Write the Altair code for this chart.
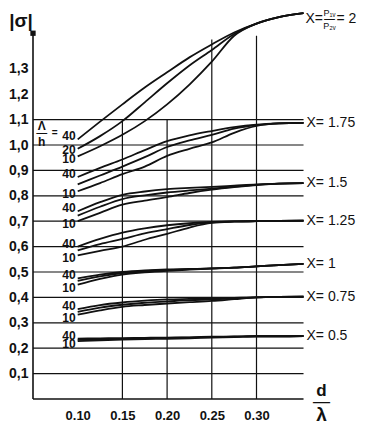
import altair as alt
import pandas as pd

# ---------------- data ----------------
D_LAMBDA = [0.10, 0.125, 0.15, 0.175, 0.20, 0.225, 0.25, 0.275, 0.30, 0.325, 0.3526]

X2_L40 = [1.022, 1.092, 1.160, 1.226, 1.286, 1.345, 1.396, 1.443, 1.478, 1.503, 1.519]
X2_L20 = [0.985, 1.035, 1.094, 1.168, 1.243, 1.313, 1.374, 1.437, 1.478, 1.503, 1.519]
X2_L10 = [0.955, 0.995, 1.040, 1.094, 1.160, 1.238, 1.328, 1.430, 1.478, 1.503, 1.519]

X175_L40 = [0.874, 0.910, 0.943, 0.980, 1.015, 1.038, 1.055, 1.070, 1.080, 1.085, 1.087]
X175_L20 = [0.845, 0.880, 0.915, 0.952, 0.992, 1.018, 1.040, 1.064, 1.078, 1.085, 1.087]
X175_L10 = [0.818, 0.850, 0.885, 0.915, 0.957, 0.985, 1.010, 1.048, 1.075, 1.085, 1.087]

X15_L40 = [0.739, 0.775, 0.804, 0.817, 0.826, 0.831, 0.835, 0.840, 0.845, 0.848, 0.850]
X15_L20 = [0.722, 0.757, 0.787, 0.802, 0.813, 0.821, 0.828, 0.836, 0.843, 0.848, 0.850]
X15_L10 = [0.700, 0.733, 0.765, 0.781, 0.795, 0.811, 0.824, 0.834, 0.842, 0.848, 0.850]

X125_L40 = [0.600, 0.630, 0.655, 0.672, 0.684, 0.692, 0.697, 0.699, 0.700, 0.701, 0.702]
X125_L20 = [0.585, 0.610, 0.630, 0.652, 0.669, 0.685, 0.695, 0.699, 0.700, 0.701, 0.702]
X125_L10 = [0.565, 0.583, 0.600, 0.627, 0.650, 0.675, 0.693, 0.698, 0.700, 0.701, 0.702]

X1_L40 = [0.475, 0.490, 0.500, 0.506, 0.510, 0.512, 0.514, 0.517, 0.522, 0.527, 0.532]
X1_L20 = [0.465, 0.483, 0.496, 0.503, 0.508, 0.511, 0.514, 0.517, 0.522, 0.527, 0.532]
X1_L10 = [0.450, 0.473, 0.490, 0.499, 0.505, 0.509, 0.513, 0.517, 0.522, 0.527, 0.532]

X075_L40 = [0.354, 0.370, 0.380, 0.387, 0.392, 0.394, 0.396, 0.398, 0.400, 0.402, 0.403]
X075_L20 = [0.343, 0.360, 0.371, 0.379, 0.384, 0.389, 0.392, 0.396, 0.400, 0.402, 0.403]
X075_L10 = [0.332, 0.349, 0.363, 0.370, 0.376, 0.381, 0.386, 0.393, 0.400, 0.402, 0.403]

X05_L40 = [0.238, 0.239, 0.240, 0.241, 0.242, 0.243, 0.245, 0.246, 0.247, 0.247, 0.248]
X05_L20 = [0.233, 0.235, 0.237, 0.239, 0.240, 0.242, 0.244, 0.245, 0.247, 0.247, 0.248]
X05_L10 = [0.228, 0.231, 0.234, 0.236, 0.237, 0.239, 0.242, 0.244, 0.247, 0.247, 0.248]

GROUP_NAMES = ["2", "1.75", "1.5", "1.25", "1", "0.75", "0.5"]
GROUP_SERIES = {
    "2": (X2_L40, X2_L20, X2_L10),
    "1.75": (X175_L40, X175_L20, X175_L10),
    "1.5": (X15_L40, X15_L20, X15_L10),
    "1.25": (X125_L40, X125_L20, X125_L10),
    "1": (X1_L40, X1_L20, X1_L10),
    "0.75": (X075_L40, X075_L20, X075_L10),
    "0.5": (X05_L40, X05_L20, X05_L10),
}
LAMBDA_H = [40, 20, 10]

Y_TICKS = [0.1, 0.2, 0.3, 0.4, 0.5, 0.6, 0.7, 0.8, 0.9, 1.0, 1.1, 1.2, 1.3]
X_TICKS = [0.10, 0.15, 0.20, 0.25, 0.30]
H_GRID = [0.1, 0.2, 0.3, 0.4, 0.5, 0.6, 0.7, 0.8, 0.9, 1.0, 1.1]
V_GRID = [0.15, 0.20, 0.25, 0.30]
V_GRID_TOP = [1.1, 1.1, 1.415, 1.43]
X_MIN = 0.05
Y_AXIS_TOP = 1.44
X_END = D_LAMBDA[-1]

# ---------------- tables ----------------
rows = []
for g in GROUP_NAMES:
    for lam, series in zip(LAMBDA_H, GROUP_SERIES[g]):
        for xv, yv in zip(D_LAMBDA, series):
            rows.append({"x": xv, "y": yv, "curve": f"{g}_{lam}"})
curves = pd.DataFrame(rows)

start_rows = []
for g in GROUP_NAMES:
    for lam, series in zip(LAMBDA_H, GROUP_SERIES[g]):
        if lam == 20 and g != "2":
            continue
        start_rows.append({"x": D_LAMBDA[0], "y": series[0], "lab": str(lam), "lam": lam})
starts = pd.DataFrame(start_rows)

end_labels = pd.DataFrame(
    [{"x": X_END, "y": GROUP_SERIES[g][0][-1], "lab": f"X= {g}"} for g in GROUP_NAMES[1:]]
)

hgrid = pd.DataFrame({"y": H_GRID, "x": X_MIN, "x2": X_END})
vgrid = pd.DataFrame({"x": V_GRID, "y": 0.0, "y2": V_GRID_TOP})
yaxis_line = pd.DataFrame({"x": [X_MIN], "y": [0.0], "y2": [Y_AXIS_TOP]})
xaxis_line = pd.DataFrame({"x": [X_MIN], "x2": [X_END], "y": [0.0]})
top_anchor = pd.DataFrame({"x": [X_MIN], "y": [Y_AXIS_TOP]})
x2_anchor = pd.DataFrame({"x": [X_END], "y": [X2_L40[-1]]})
lam_anchor = pd.DataFrame({"x": [D_LAMBDA[0]], "y": [X2_L40[0]]})
dl_anchor = pd.DataFrame({"x": [X_END], "y": [0.0]})

# ---------------- scales / style ----------------
W, H = 329, 390
PX_X = 894.0
PX_Y = 254.0
xs = alt.Scale(domain=[X_MIN, X_MIN + W / PX_X], nice=False, zero=False)
ys = alt.Scale(domain=[0, H / PX_Y], nice=False, zero=False)
FONT = "Liberation Sans"
INK = "#111111"

X_AXIS = alt.Axis(values=X_TICKS, format=".2f", domain=False, grid=False,
                  ticks=False, labelPadding=10, labelFont=FONT, labelFontSize=13,
                  labelFontWeight="bold", labelColor=INK, title=None)
Y_AXIS = alt.Axis(values=Y_TICKS, domain=False, grid=False, ticks=False,
                  labelExpr="replace(format(datum.value, '.1f'), '.', ',')",
                  labelPadding=5, labelFont=FONT, labelFontSize=14,
                  labelFontWeight="bold", labelColor=INK, title=None)


def X():
    return alt.X("x:Q", scale=xs, axis=X_AXIS)


def Y():
    return alt.Y("y:Q", scale=ys, axis=Y_AXIS)


lines = alt.Chart(curves).mark_line(
    color=INK, strokeWidth=1.8, interpolate="monotone"
).encode(x=X(), y=Y(), detail="curve:N")

grid_h = alt.Chart(hgrid).mark_rule(color=INK, strokeWidth=1.2).encode(
    x=X(), x2="x2:Q", y=Y())
grid_v = alt.Chart(vgrid).mark_rule(color=INK, strokeWidth=1.2).encode(
    x=X(), y=Y(), y2="y2:Q")
ax_y = alt.Chart(yaxis_line).mark_rule(color=INK, strokeWidth=1.6).encode(
    x=X(), y=Y(), y2="y2:Q")
ax_x = alt.Chart(xaxis_line).mark_rule(color=INK, strokeWidth=1.6).encode(
    x=X(), x2="x2:Q", y=Y())


def txt(df, text=None, **kw):
    params = dict(font=FONT, color=INK, fontWeight="bold", baseline="middle")
    params.update(kw)
    if text is not None:
        params["text"] = text
        return alt.Chart(df).mark_text(**params).encode(x=X(), y=Y())
    return alt.Chart(df).mark_text(**params).encode(x=X(), y=Y(), text="lab:N")


lab40 = txt(starts[starts.lam == 40], align="right", dx=-2, dy=-3, fontSize=12)
lab20 = txt(starts[starts.lam == 20], align="right", dx=-2, dy=1, fontSize=12)
lab10 = txt(starts[starts.lam == 10], align="right", dx=-2, dy=3, fontSize=12)

ends = txt(end_labels, align="left", dx=3, dy=0, fontSize=14, fontWeight="normal")

# X = P1v / P2v = 2
x2_a = txt(x2_anchor, "X=", align="left", dx=2, dy=6, fontSize=14, fontWeight="normal")
x2_num = txt(x2_anchor, "P₁ᵥ", align="center", dx=26, dy=0, fontSize=9, fontWeight="normal")
x2_bar = alt.Chart(x2_anchor).mark_text(text="—", font="DejaVu Sans", fontSize=12, color=INK,
                                        align="center", baseline="middle", dx=26, dy=6).encode(x=X(), y=Y())
x2_den = txt(x2_anchor, "P₂ᵥ", align="center", dx=26, dy=13, fontSize=9, fontWeight="normal")
x2_b = txt(x2_anchor, "= 2", align="left", dx=33, dy=6, fontSize=14, fontWeight="normal")

# Lambda / h =
lam_top = txt(lam_anchor, "Λ", align="center", dx=-36, dy=-13, fontSize=12)
lam_bar = alt.Chart(lam_anchor).mark_text(text="—", font="DejaVu Sans", fontSize=12, color=INK,
                                          align="center", baseline="middle", dx=-36, dy=-6).encode(x=X(), y=Y())
lam_bot = txt(lam_anchor, "h", align="center", dx=-36, dy=3, fontSize=12)
lam_eq = txt(lam_anchor, "=", align="center", dx=-23, dy=-6, fontSize=10)

# d / lambda
d_top = txt(dl_anchor, "d", align="center", dx=18, dy=-8, fontSize=17)
d_bar = alt.Chart(dl_anchor).mark_text(text="—", font="DejaVu Sans", fontSize=19, color=INK,
                                       align="center", baseline="middle", dx=18, dy=3).encode(x=X(), y=Y())
d_bot = txt(dl_anchor, "λ", align="center", dx=18, dy=16, fontSize=19)

# |sigma| at top of y axis
sig = txt(top_anchor, "|σ|", align="center", dx=-12, dy=-12, fontSize=19)
sig_mark = alt.Chart(top_anchor).mark_square(color=INK, size=28, opacity=1).encode(x=X(), y=Y())

chart = alt.layer(
    lines, grid_h, grid_v, ax_y, ax_x,
    lab40, lab20, lab10, ends,
    x2_a, x2_num, x2_bar, x2_den, x2_b,
    lam_top, lam_bar, lam_bot, lam_eq,
    d_top, d_bar, d_bot, sig, sig_mark,
).properties(
    width=W, height=H,
    autosize=alt.AutoSizeParams(type="none"),
    padding={"left": 25, "top": 1, "right": 0, "bottom": 28},
    background="white",
).configure_view(stroke=None)

chart.save("out.html", embed_options={"renderer": "svg", "actions": False})
